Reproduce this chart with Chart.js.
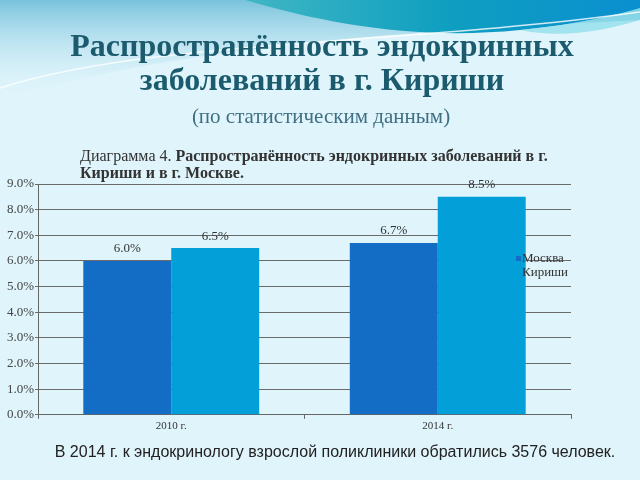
<!DOCTYPE html>
<html>
<head>
<meta charset="utf-8">
<script src="https://cdn.jsdelivr.net/npm/chart.js@4"></script>
<style>
  html, body { margin: 0; padding: 0; background: #dff4fb; }
</style>
</head>
<body>
<canvas id="chart" width="640" height="480"></canvas>
<script>
// data
var categories = ['2010 г.', '2014 г.'];
var moscow = [6.0, 6.7];
var kirishi = [6.5, 8.5];
var seriesNames = ['Москва', 'Кириши'];

var titleLines = ['Распространённость эндокринных', 'заболеваний в г. Кириши'];
var subtitleText = '(по статистическим данным)';

var serif = "'Liberation Serif', 'DejaVu Serif', serif";

// background + wave decoration at the top
var background = {
    id: 'background',
    beforeDraw: function (chart) {
        var c = chart.ctx;
        c.save();
        c.fillStyle = '#dff4fb';
        c.fillRect(0, 0, chart.width, chart.height);

        var g = c.createLinearGradient(0, 0, 0, 100);
        g.addColorStop(0, '#78c3dc');
        g.addColorStop(1, 'rgba(223,244,251,0)');
        c.fillStyle = g;
        c.beginPath();
        c.moveTo(0, 0);
        c.lineTo(640, 0);
        c.lineTo(640, 20);
        c.bezierCurveTo(450, 30, 200, 40, 0, 100);
        c.closePath();
        c.fill();

        // dark swoosh
        var g2 = c.createLinearGradient(250, 0, 640, 0);
        g2.addColorStop(0, '#3fb6c4');
        g2.addColorStop(0.5, '#0f9fc0');
        g2.addColorStop(1, '#0a8fd0');
        c.fillStyle = g2;
        c.beginPath();
        c.moveTo(245, 0);
        c.bezierCurveTo(330, 25, 420, 40, 520, 30);
        c.bezierCurveTo(580, 24, 620, 14, 640, 8);
        c.lineTo(640, 0);
        c.closePath();
        c.fill();

        // light band under the swoosh
        c.fillStyle = 'rgba(120,215,230,0.6)';
        c.beginPath();
        c.moveTo(520, 30);
        c.bezierCurveTo(580, 24, 620, 14, 640, 8);
        c.lineTo(640, 20);
        c.bezierCurveTo(600, 32, 560, 38, 520, 30);
        c.fill();

        // thin white line
        c.strokeStyle = 'rgba(255,255,255,0.8)';
        c.lineWidth = 1.5;
        c.beginPath();
        c.moveTo(0, 88);
        c.bezierCurveTo(150, 40, 400, 45, 640, 12);
        c.stroke();
        c.restore();
    }
};

// headings above the plot and note below it
var extraText = {
    id: 'extraText',
    afterDraw: function (chart) {
        var c = chart.ctx;
        c.save();
        c.textBaseline = 'middle';
        c.textAlign = 'center';
        c.fillStyle = '#1c5b6e';
        c.font = 'bold 32px ' + serif;
        c.fillText(titleLines[0], 322, 48);
        c.fillText(titleLines[1], 322, 82);
        c.fillStyle = '#3f6f82';
        c.font = '21px ' + serif;
        c.fillText(subtitleText, 321, 117);

        c.textAlign = 'left';
        c.fillStyle = '#333333';
        c.font = '16px ' + serif;
        var part1 = 'Диаграмма 4. ';
        c.fillText(part1, 80, 157);
        var w = c.measureText(part1).width;
        c.font = 'bold 16px ' + serif;
        c.fillText('Распространённость эндокринных заболеваний в г.', 80 + w, 157);
        c.fillText('Кириши и в г. Москве.', 80, 174);

        c.font = "16px 'Liberation Sans', Arial, sans-serif";
        c.fillStyle = '#222222';
        c.textAlign = 'center';
        c.fillText('В 2014 г. к эндокринологу взрослой поликлиники обратились 3576 человек.', 335, 453);
        c.restore();
    }
};

// value labels on top of bars
var valueLabels = {
    id: 'valueLabels',
    afterDatasetsDraw: function (chart) {
        var c = chart.ctx;
        c.save();
        c.font = '13px ' + serif;
        c.fillStyle = '#333333';
        c.textAlign = 'center';
        c.textBaseline = 'middle';
        chart.data.datasets.forEach(function (ds, i) {
            chart.getDatasetMeta(i).data.forEach(function (bar, j) {
                c.fillText(ds.data[j].toFixed(1) + '%', bar.x, bar.y - 12);
            });
        });
        c.restore();
    }
};

// small legend drawn over the right side of the plot
var sideLegend = {
    id: 'sideLegend',
    afterDraw: function (chart) {
        var c = chart.ctx;
        c.save();
        c.font = '13px ' + serif;
        c.textBaseline = 'middle';
        c.textAlign = 'left';
        chart.data.datasets.forEach(function (ds, i) {
            var y = 259 + i * 14;
            c.fillStyle = ds.backgroundColor;
            c.fillRect(516, y - 3, 5, 5);
            c.fillStyle = '#333333';
            c.fillText(ds.label, 522, y);
        });
        c.restore();
    }
};

new Chart(document.getElementById('chart'), {
    type: 'bar',
    data: {
        labels: categories,
        datasets: [{
            label: seriesNames[0],
            data: moscow,
            backgroundColor: '#146dc5'
        }, {
            label: seriesNames[1],
            data: kirishi,
            backgroundColor: '#039fd8'
        }]
    },
    options: {
        responsive: false,
        animation: false,
        devicePixelRatio: 1,
        layout: {
            padding: { left: 2, right: 69, bottom: 46, top: 184 }
        },
        datasets: {
            bar: { categoryPercentage: 0.66, barPercentage: 1.0 }
        },
        scales: {
            x: {
                grid: { display: true, drawOnChartArea: false, drawTicks: true, tickLength: 4, color: '#666666' },
                border: { color: '#666666' },
                ticks: { color: '#333333', font: { family: serif, size: 11 }, padding: 1 }
            },
            y: {
                min: 0,
                max: 9,
                afterFit: function (scale) { scale.width = 36; },
                ticks: {
                    stepSize: 1,
                    color: '#444444',
                    padding: 1,
                    font: { family: serif, size: 13 },
                    callback: function (v) { return v.toFixed(1) + '%'; }
                },
                grid: { color: '#6b6b6b', lineWidth: 1, tickLength: 3 },
                border: { color: '#666666' }
            }
        },
        plugins: {
            legend: { display: false },
            tooltip: { enabled: false }
        }
    },
    plugins: [background, valueLabels, sideLegend, extraText]
});
</script>
</body>
</html>
